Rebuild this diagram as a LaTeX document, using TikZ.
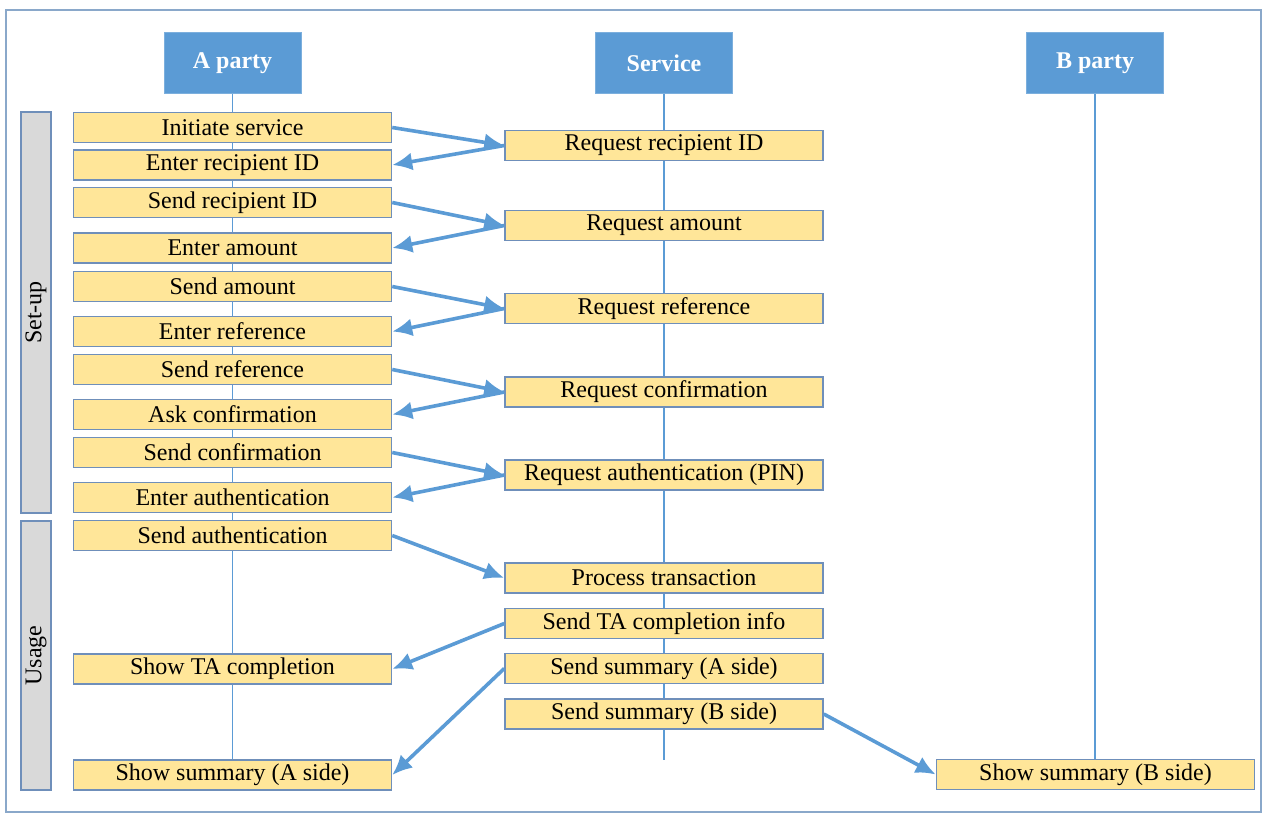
\documentclass[tikz,border=0pt]{standalone}
\usepackage{fontspec}
\setmainfont{Liberation Serif}
\usetikzlibrary{arrows.meta}
\pgfdeclarelayer{background}
\pgfsetlayers{background,main}
\definecolor{hdr}{HTML}{5B9BD5}
\definecolor{boxfill}{HTML}{FFE699}
\definecolor{boxline}{HTML}{6F8FBA}
\definecolor{outer}{HTML}{8AA8CA}
\definecolor{barfill}{HTML}{D9D9D9}
\tikzset{
  header/.style={fill=hdr, draw=hdr!80!white, line width=0.5pt, text=white, font=\fontsize{12}{14}\selectfont\bfseries, minimum width=68.5pt, minimum height=30.5pt, inner sep=0pt},
  stepbox/.style={fill=boxfill, draw=boxline, line width=0.75pt, font=\fontsize{12}{14}\selectfont, minimum width=159pt, minimum height=15pt, inner sep=0pt},
  phasebar/.style={fill=barfill, draw=boxline, line width=0.75pt, minimum width=15pt, inner sep=0pt, font=\fontsize{12}{14}\selectfont},
  lifeline/.style={draw=hdr, line width=0.7pt},
  msg/.style={draw=hdr, line width=1.8pt, -{Latex[length=10pt,width=9pt]}},
}
\begin{document}
\begin{tikzpicture}[x=0.5pt,y=-0.5pt]
\useasboundingbox (0,0) rectangle (1263,816);
\draw[outer, line width=0.9pt] (6,10) rectangle (1261,812);
% headers
\node[header] (hA) at (232.5,63) {A party};
\node[header] (hS) at (664,63) {Service};
\node[header] (hB) at (1095,63) {B party};
% phase bars
\node[phasebar, minimum height=200.5pt] (setup) at (36,312.5) {\rotatebox{90}{Set-up}};
\node[phasebar, minimum height=134.5pt] (usage) at (36,655.5) {\rotatebox{90}{Usage}};
% A party steps
\node[stepbox] (init) at (232.5,127.5) {Initiate service};
\node[stepbox] (enterRec) at (232.5,165) {Enter recipient ID};
\node[stepbox] (sendRec) at (232.5,202.5) {Send recipient ID};
\node[stepbox] (enterAmt) at (232.5,248) {Enter amount};
\node[stepbox] (sendAmt) at (232.5,286.5) {Send amount};
\node[stepbox] (enterRef) at (232.5,331.5) {Enter reference};
\node[stepbox] (sendRef) at (232.5,369.5) {Send reference};
\node[stepbox] (askConf) at (232.5,414.5) {Ask confirmation};
\node[stepbox] (sendConf) at (232.5,452.5) {Send confirmation};
\node[stepbox] (enterAuth) at (232.5,497.5) {Enter authentication};
\node[stepbox] (sendAuth) at (232.5,535.5) {Send authentication};
\node[stepbox] (showTA) at (232.5,669) {Show TA completion};
\node[stepbox] (showSumA) at (232.5,775) {Show summary (A side)};
% Service steps
\node[stepbox] (reqRec) at (664,145.5) {Request recipient ID};
\node[stepbox] (reqAmt) at (664,225.5) {Request amount};
\node[stepbox] (reqRef) at (664,308.5) {Request reference};
\node[stepbox] (reqConf) at (664,392) {Request confirmation};
\node[stepbox] (reqAuth) at (664,475) {Request authentication (PIN)};
\node[stepbox] (process) at (664,578) {Process transaction};
\node[stepbox] (sendTA) at (664,623.5) {Send TA completion info};
\node[stepbox] (sendSumA) at (664,668.5) {Send summary (A side)};
\node[stepbox] (sendSumB) at (664,714) {Send summary (B side)};
% B party
\node[stepbox] (showSumB) at (1095.5,774.5) {Show summary (B side)};
\coordinate (svcEnd) at (664,760);
% lifelines
\begin{pgfonlayer}{background}
\draw[lifeline] (hA.south) -- (showSumA.north);
\draw[lifeline] (hS.south) -- (svcEnd);
\draw[lifeline] (hB.south) -- (hB.south |- showSumB.north);
\end{pgfonlayer}
% messages
\draw[msg] (init.east) -- (reqRec.west);
\draw[msg] (reqRec.west) -- (enterRec.east);
\draw[msg] (sendRec.east) -- (reqAmt.west);
\draw[msg] (reqAmt.west) -- (enterAmt.east);
\draw[msg] (sendAmt.east) -- (reqRef.west);
\draw[msg] (reqRef.west) -- (enterRef.east);
\draw[msg] (sendRef.east) -- (reqConf.west);
\draw[msg] (reqConf.west) -- (askConf.east);
\draw[msg] (sendConf.east) -- (reqAuth.west);
\draw[msg] (reqAuth.west) -- (enterAuth.east);
\draw[msg] (sendAuth.east) -- (process.west);
\draw[msg] (sendTA.west) -- (showTA.east);
\draw[msg] (sendSumA.west) -- (showSumA.east);
\draw[msg] (sendSumB.east) -- (showSumB.west);
\end{tikzpicture}
\end{document}
